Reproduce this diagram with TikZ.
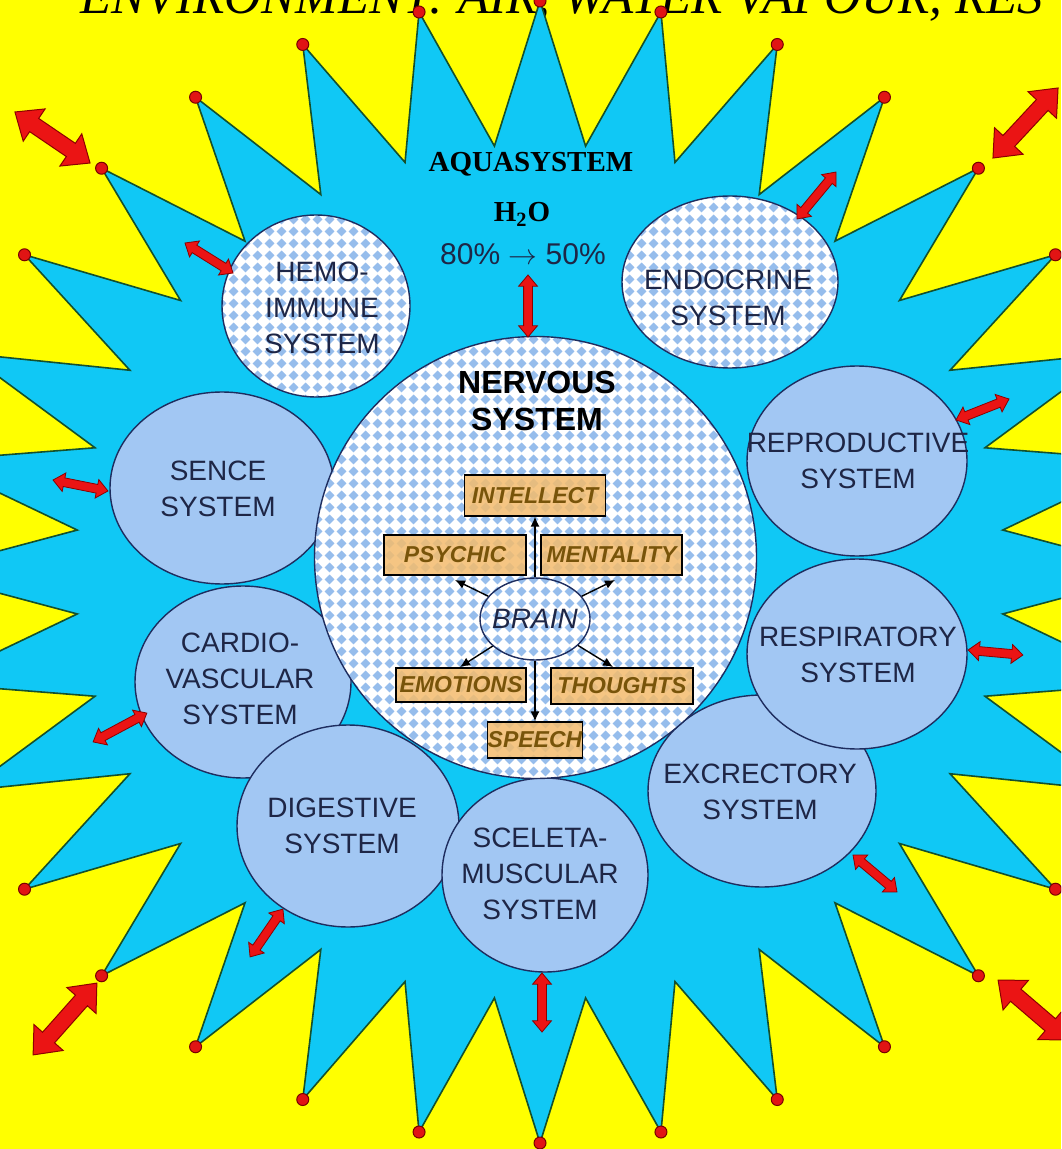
\documentclass[tikz,border=0pt]{standalone}
\usepackage{fontspec}
\setmainfont{Liberation Serif}
\setsansfont{Liberation Sans}
\usetikzlibrary{shapes.geometric,shapes.arrows,patterns,arrows.meta}
\definecolor{bgyellow}{RGB}{255,255,0}
\definecolor{starcyan}{RGB}{16,200,245}
\definecolor{starline}{RGB}{20,80,45}
\definecolor{dotred}{RGB}{225,20,20}
\definecolor{dotline}{RGB}{120,0,0}
\definecolor{arrred}{RGB}{235,20,20}
\definecolor{arrline}{RGB}{140,0,0}
\definecolor{sysfill}{RGB}{162,199,243}
\definecolor{sysline}{RGB}{30,45,95}
\definecolor{systext}{RGB}{30,38,70}
\definecolor{chkblue}{RGB}{150,189,236}
\definecolor{boxfill}{RGB}{244,188,110}
\definecolor{boxtext}{RGB}{120,84,10}
\pgfdeclarepatternformonly{dchk}{\pgfqpoint{0pt}{0pt}}{\pgfqpoint{6pt}{6pt}}{\pgfqpoint{6pt}{6pt}}{%
  \pgfpathmoveto{\pgfqpoint{0.35pt}{3pt}}\pgfpathlineto{\pgfqpoint{3pt}{5.65pt}}\pgfpathlineto{\pgfqpoint{5.65pt}{3pt}}\pgfpathlineto{\pgfqpoint{3pt}{0.35pt}}\pgfpathclose
  \pgfusepath{fill}}
\begin{document}
\begin{tikzpicture}[x=0.5pt,y=-0.5pt,
  dot/.style={fill=dotred,draw=dotline,line width=0.5pt},
  bigarr/.style={double arrow, fill=arrred, draw=arrline, line width=0.5pt, inner xsep=0pt, inner ysep=3.75pt, double arrow head extend=5.75pt, double arrow tip angle=80, minimum width=0pt},
  smallarr/.style={double arrow, fill=arrred, draw=arrline, line width=0.4pt, inner xsep=0pt, inner ysep=2pt, double arrow head extend=2.5pt, double arrow tip angle=80, minimum width=0pt},
  syscirc/.style={ellipse, draw=sysline, line width=0.7pt, fill=sysfill, inner sep=0pt},
  chkcirc/.style={ellipse, draw=sysline, line width=0.7pt, preaction={fill=white}, pattern=dchk, pattern color=chkblue, inner sep=0pt},
  systxt/.style={font=\sffamily\fontsize{14}{18}\selectfont, text=systext, align=center, inner sep=0pt},
  bbox/.style={rectangle, draw=black, line width=0.6pt, fill=boxfill, fill opacity=0.85, text opacity=1, inner sep=0pt, font=\sffamily\bfseries\itshape\fontsize{11.5}{13}\selectfont, text=boxtext},
  barr/.style={-{Latex[length=5pt,width=4.5pt]}, line width=0.7pt, black}
]
\useasboundingbox (0,0) rectangle (1061,1149);
\clip (0,0) rectangle (1061,1149);
\fill[bgyellow] (0,0) rectangle (1061,1149);
% title (cut off at the top)
\node[anchor=base west, font=\rmfamily\itshape\fontsize{25.5}{30}\selectfont, inner sep=0pt] (title) at (80,14) {ENVIRONMENT: AIR, WATER VAPOUR, RES};
% star
\filldraw[fill=starcyan, draw=starline, line width=0.8pt, line join=miter]
  plot[samples at={0,...,63}, variable=\k] ({540+(isodd(\k)?465:620)*sin(\k*5.625)}, {572-(isodd(\k)?428:571)*cos(\k*5.625)}) -- cycle;
\foreach \k in {0,...,31}
  \filldraw[dot] ({540+620*sin(\k*11.25)},{572-571*cos(\k*11.25)}) circle[radius=3pt];
% big arrows
\node[bigarr, minimum height=45.4pt, rotate=-34.2] (ar-tl) at (52.5,137.5) {};
\node[bigarr, minimum height=47.8pt, rotate=47.1] (ar-tr) at (1025.5,123) {};
\node[bigarr, minimum height=48pt, rotate=48.4] (ar-bl) at (65,1019) {};
\node[bigarr, minimum height=46pt, rotate=-40.6] (ar-br) at (1033,1010) {};
% texts on the star
\node[anchor=base, font=\rmfamily\bfseries\fontsize{14.5}{17}\selectfont, inner sep=0pt] (aqua) at (531,172) {AQUASYSTEM};
\node[anchor=base, font=\rmfamily\bfseries\fontsize{14.5}{17}\selectfont, inner sep=0pt] (h2o) at (522,222) {H\textsubscript{2}O};
\node[anchor=base, font=\sffamily\fontsize{15}{18}\selectfont, text=systext, inner sep=0pt] (pct) at (523,265) {80\% $\rightarrow$ 50\%};
% system circles
\node[syscirc, minimum width=112pt, minimum height=96pt] (sence) at (222,488) {};
\node[systxt] (t-sence) at (218,489) {SENCE\\SYSTEM};
\node[syscirc, minimum width=108pt, minimum height=96pt] (cardio) at (243,682) {};
\node[systxt] (t-cardio) at (240,679) {CARDIO-\\VASCULAR\\SYSTEM};
\node[syscirc, minimum width=111pt, minimum height=101pt] (dig) at (348,826) {};
\node[systxt] (t-dig) at (342,826) {DIGESTIVE\\SYSTEM};
\node[syscirc, minimum width=103pt, minimum height=97pt] (scel) at (545,875) {};
\node[systxt] (t-scel) at (540,874) {SCELETA-\\MUSCULAR\\SYSTEM};
\node[syscirc, minimum width=114pt, minimum height=96pt] (excr) at (762,791) {};
\node[systxt] (t-excr) at (760,792) {EXCRECTORY\\SYSTEM};
\node[syscirc, minimum width=110pt, minimum height=95pt] (resp) at (857,654) {};
\node[systxt] (t-resp) at (858,655) {RESPIRATORY\\SYSTEM};
\node[syscirc, minimum width=110pt, minimum height=95pt] (repro) at (857,461) {};
\node[systxt] (t-repro) at (858,461) {REPRODUCTIVE\\SYSTEM};
\node[chkcirc, minimum width=94pt, minimum height=91pt] (hemo) at (316,306) {};
\node[systxt] (t-hemo) at (322,308) {HEMO-\\IMMUNE\\SYSTEM};
\node[chkcirc, minimum width=108pt, minimum height=86pt] (endo) at (730,282) {};
\node[systxt] (t-endo) at (728,298) {ENDOCRINE\\SYSTEM};
\node[chkcirc, circle, minimum size=221pt] (nerv) at (535.5,557.5) {};
\node[font=\sffamily\bfseries\fontsize{16}{18.5}\selectfont, align=center, inner sep=0pt] (t-nerv) at (537,401) {NERVOUS\\SYSTEM};
% brain and its branches
\node[ellipse, draw=sysline, line width=0.7pt, minimum width=55pt, minimum height=41pt, inner sep=0pt] (brain) at (535,619) {};
\node[font=\sffamily\itshape\fontsize{14}{16}\selectfont, text=systext, inner sep=0pt] (t-brain) at (535,619) {BRAIN};
\node[bbox, minimum width=70.5pt, minimum height=20.5pt] (intellect) at (535,495.5) {INTELLECT};
\node[bbox, minimum width=71pt, minimum height=20pt] (psychic) at (455,555) {PSYCHIC};
\node[bbox, minimum width=70.5pt, minimum height=20pt] (mentality) at (611.5,555) {MENTALITY};
\node[bbox, minimum width=65pt, minimum height=17pt] (emotions) at (461,685) {EMOTIONS};
\node[bbox, minimum width=71pt, minimum height=18pt] (thoughts) at (622,686) {THOUGHTS};
\node[bbox, minimum width=44.5pt, minimum height=18pt] (speech) at (535,740) {SPEECH};
\coordinate (p-end) at (455,580);
\coordinate (m-end) at (615,580);
\coordinate (e-end) at (460,667);
\coordinate (t-end) at (613,667);
\draw[barr] (brain.north) -- (intellect.south);
\draw[barr] (brain) -- (p-end);
\draw[barr] (brain) -- (m-end);
\draw[barr] (brain) -- (e-end);
\draw[barr] (brain) -- (t-end);
\draw[barr] (brain.south) -- (speech.north);
% small double arrows between systems and environment
\node[smallarr, minimum height=28.3pt, rotate=-32] (a-hemo) at (209,258) {};
\node[smallarr, minimum height=30.5pt, rotate=50.3] (a-endo) at (816.5,195.5) {};
\node[smallarr, minimum height=31pt, rotate=90] (a-nerv) at (528,306) {};
\node[smallarr, minimum height=28pt, rotate=-11.3] (a-sence) at (80.5,485.5) {};
\node[smallarr, minimum height=30.5pt, rotate=28.2] (a-cardio) at (120,727.5) {};
\node[smallarr, minimum height=29pt, rotate=55.5] (a-dig) at (266.5,933) {};
\node[smallarr, minimum height=29.5pt, rotate=90] (a-scel) at (542,1002.5) {};
\node[smallarr, minimum height=28.7pt, rotate=-40] (a-excr) at (875,873.5) {};
\node[smallarr, minimum height=27.5pt, rotate=-5.2] (a-resp) at (995.5,652.5) {};
\node[smallarr, minimum height=28.5pt, rotate=21.6] (a-repro) at (982.5,409.5) {};
\end{tikzpicture}
\end{document}
